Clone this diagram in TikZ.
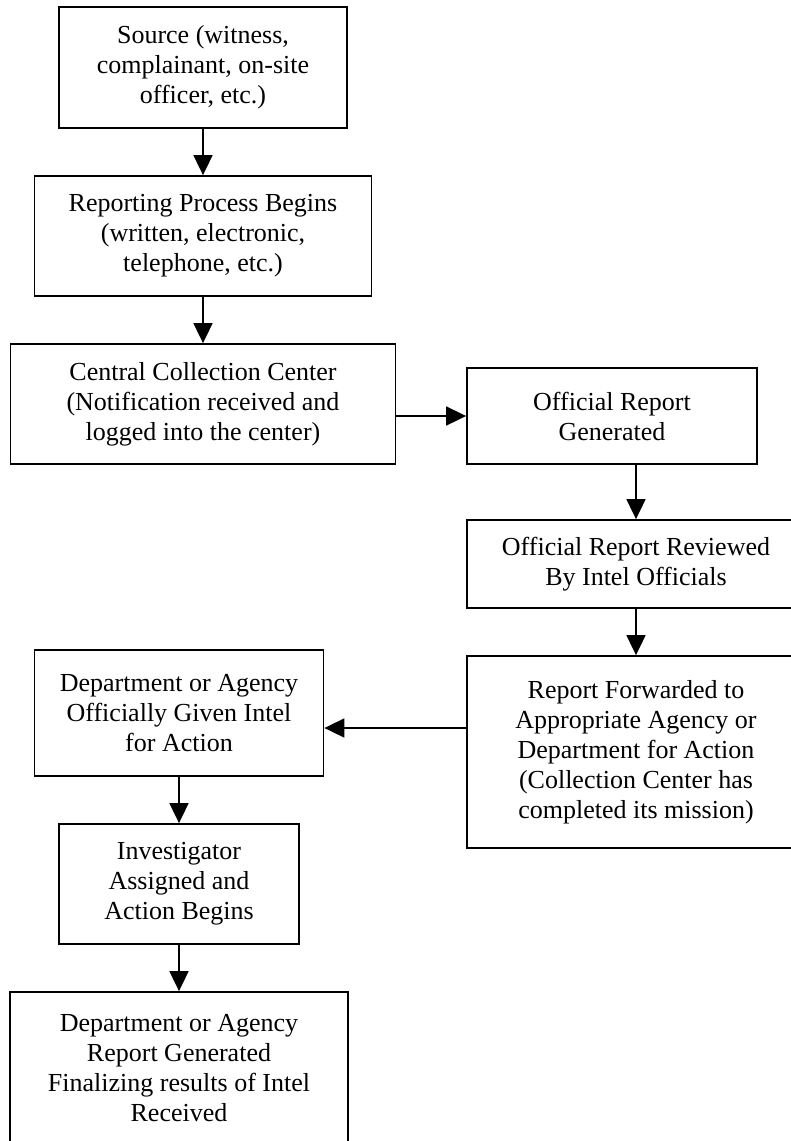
\documentclass[tikz,border=0pt]{standalone}
\usepackage{fontspec}
\setmainfont{Liberation Serif}
\usepackage{tikz}
\usetikzlibrary{arrows.meta}

\begin{document}
\begin{tikzpicture}[x=1pt,y=-1pt,
   box/.style={draw,line width=1.8pt,align=center,inner sep=0pt,font=\fontsize{26}{30}\selectfont},
   flow/.style={-{Triangle[length=20pt,width=19pt]},line width=1.8pt}]
   \useasboundingbox (0,0) rectangle (791,1141);
   \clip (0,0) rectangle (791,1141);

   \draw (203,67.5) node[box,minimum width=288pt,minimum height=121pt] (source) {Source (witness,\\complainant, on-site\\officer, etc.)};
   \draw (203,236) node[box,minimum width=337pt,minimum height=120pt] (reporting) {Reporting Process Begins\\(written, electronic,\\telephone, etc.)};
   \draw (203,404) node[box,minimum width=385pt,minimum height=120pt] (central) {Central Collection Center\\(Notification received and\\logged into the center)};
   \draw (612,416) node[box,minimum width=290pt,minimum height=96pt] (official) {Official Report\\Generated};
   \draw (636,564) node[box,minimum width=338pt,minimum height=88pt] (reviewed) {Official Report Reviewed\\By Intel Officials};
   \draw (636,752) node[box,minimum width=338pt,minimum height=192pt] (forwarded) {Report Forwarded to\\Appropriate Agency or\\Department for Action\\(Collection Center has\\completed its mission)};
   \draw (179,713) node[box,minimum width=289pt,minimum height=126pt] (department) {Department or Agency\\Officially Given Intel\\for Action};
   \draw (179,884) node[box,minimum width=240pt,minimum height=120pt] (investigator) {Investigator\\Assigned and\\Action Begins};
   \draw (179,1068) node[box,minimum width=338pt,minimum height=152pt] (final) {Department or Agency\\Report Generated\\Finalizing results of Intel\\Received};

     \path[flow] (source) edge (reporting);
     \path[flow] (reporting) edge (central);
     \draw[flow] (central.east |- official.west) -- (official.west);
     \draw[flow] (official.south -| reviewed.north) -- (reviewed.north);
     \path[flow] (reviewed) edge (forwarded);
     \draw[flow] ([yshift=24pt]forwarded.west) -- ([yshift=24pt]forwarded.west -| department.east);
     \path[flow] (department) edge (investigator);
     \path[flow] (investigator) edge (final);

\end{tikzpicture}
\end{document}
